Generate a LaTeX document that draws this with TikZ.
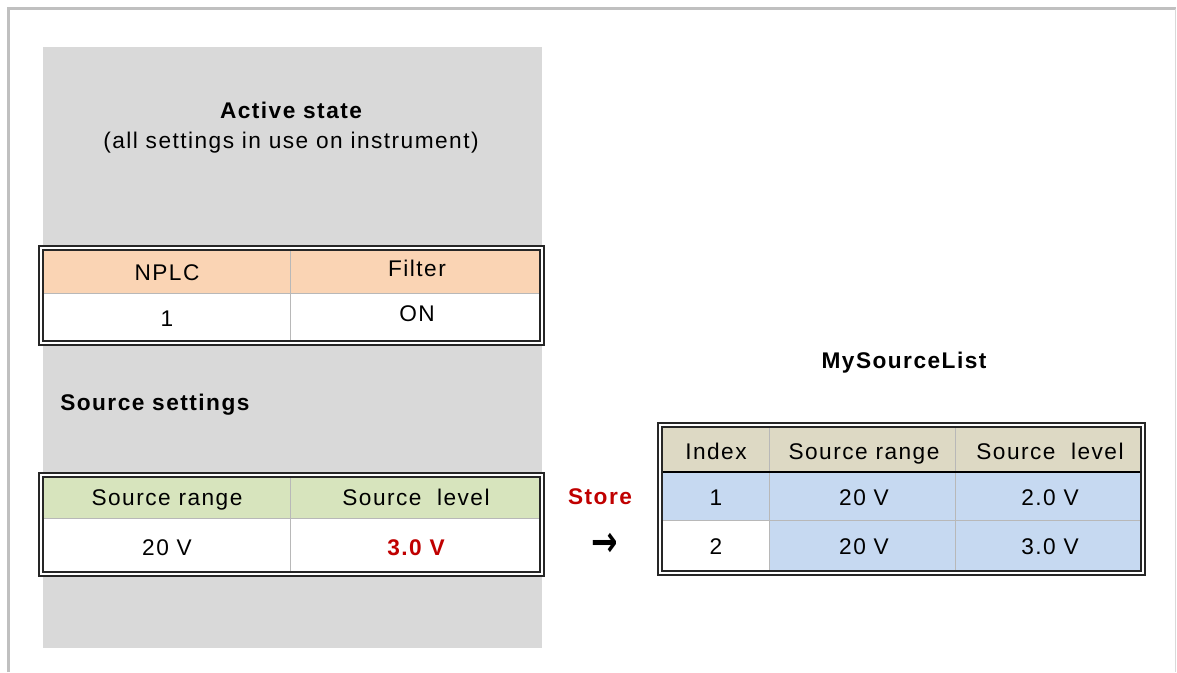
\documentclass[tikz,border=0pt]{standalone}
\usepackage{fontspec}
\setmainfont{Liberation Sans}[LetterSpace=6.5]
\newfontfamily\arrowfont{DejaVu Sans}
\definecolor{panelgray}{HTML}{D9D9D9}
\definecolor{framegray}{HTML}{C0C0C0}
\definecolor{rulegray}{HTML}{B8B8B8}
\definecolor{peach}{HTML}{FAD4B4}
\definecolor{sage}{HTML}{D7E4BD}
\definecolor{tan}{HTML}{DDD9C4}
\definecolor{paleblue}{HTML}{C6D9F1}
\definecolor{storered}{HTML}{C00000}

\begin{document}
\begin{tikzpicture}[
  x=0.75pt, y=-0.75pt,
  frame/.style={framegray, line width=2.25pt},
  border/.style={draw=black!85, line width=1.1pt},
  cellrule/.style={rulegray, line width=0.6pt},
  headrule/.style={black, line width=1.8pt},
  cell/.style={font=\fontsize{17}{20}\selectfont, inner sep=0pt,
    text height=12.2pt, text depth=0pt},
  title/.style={cell, font=\fontsize{17}{20}\selectfont\bfseries}
]
  \useasboundingbox (0,0) rectangle (1177,672);

  % outer frame
  \draw[frame] (8.5,672) -- (8.5,8.5) -- (1176,8.5);
  \draw[framegray!60, line width=0.75pt] (1175,8.5) -- (1175,672);

  % active state panel
  \fill[panelgray] (43,47) rectangle (542,648);
  \node[title] (active) at (291,110) {Active state};
  \node[cell] (activenote) at (291,140) {(all settings in use on instrument)};

  % NPLC / Filter table
  \fill[white] (39,246) rectangle (544,345);
  \fill[peach] (43,250) rectangle (540,293);
  \draw[cellrule] (43,293) -- (540,293);
  \draw[cellrule] (290,250) -- (290,341);
  \draw[border] (39,246) rectangle (544,345);
  \draw[border] (43,250) rectangle (540,341);
  \node[cell] (nplc) at (167,272) {NPLC};
  \node[cell] (filter) at (417,268) {Filter};
  \node[cell] (nplcval) at (167,318) {1};
  \node[cell] (filterval) at (417,313) {ON};

  \node[title, anchor=west] (srcset) at (60,402) {Source settings};

  % source settings table
  \fill[white] (39,473) rectangle (544,576);
  \fill[sage] (43,477) rectangle (540,518);
  \draw[cellrule] (43,518) -- (540,518);
  \draw[cellrule] (290,477) -- (290,572);
  \draw[border] (39,473) rectangle (544,576);
  \draw[border] (43,477) rectangle (540,572);
  \node[cell] (range) at (167,497) {Source range};
  \node[cell] (level) at (416,497) {Source\ \ level};
  \node[cell] (rangeval) at (167,547) {20 V};
  \node[title, storered] (levelval) at (416,547) {3.0 V};

  % store step
  \node[title, storered] (store) at (600,496) {Store};
  \node[inner sep=0pt, font=\arrowfont\fontsize{19}{19}\selectfont\bfseries] (storearrow) at (605,545) {\scalebox{1.25}[1.7]{→}};

  % MySourceList table
  \node[title] (listname) at (904,360) {MySourceList};
  \fill[white] (658,423) rectangle (1145,575);
  \fill[tan] (662,427) rectangle (1141,472);
  \fill[paleblue] (662,472) rectangle (1141,571);
  \fill[white] (662,520) rectangle (769,571);
  \draw[cellrule] (662,520) -- (1141,520);
  \draw[cellrule] (769,427) -- (769,571);
  \draw[cellrule] (955,427) -- (955,571);
  \draw[headrule] (662,472) -- (1141,472);
  \draw[border] (658,423) rectangle (1145,575);
  \draw[border] (662,427) rectangle (1141,571);

  \node[cell] (idxhead) at (716,451) {Index};
  \node[cell] (rangehead) at (864,451) {Source range};
  \node[cell] (levelhead) at (1050,451) {Source\ \ level};
  \node[cell] (idxa) at (716,497) {1};
  \node[cell] (rangea) at (864,497) {20 V};
  \node[cell] (levela) at (1050,497) {2.0 V};
  \node[cell] (idxb) at (716,546) {2};
  \node[cell] (rangeb) at (864,546) {20 V};
  \node[cell] (levelb) at (1050,546) {3.0 V};
\end{tikzpicture}
\end{document}
